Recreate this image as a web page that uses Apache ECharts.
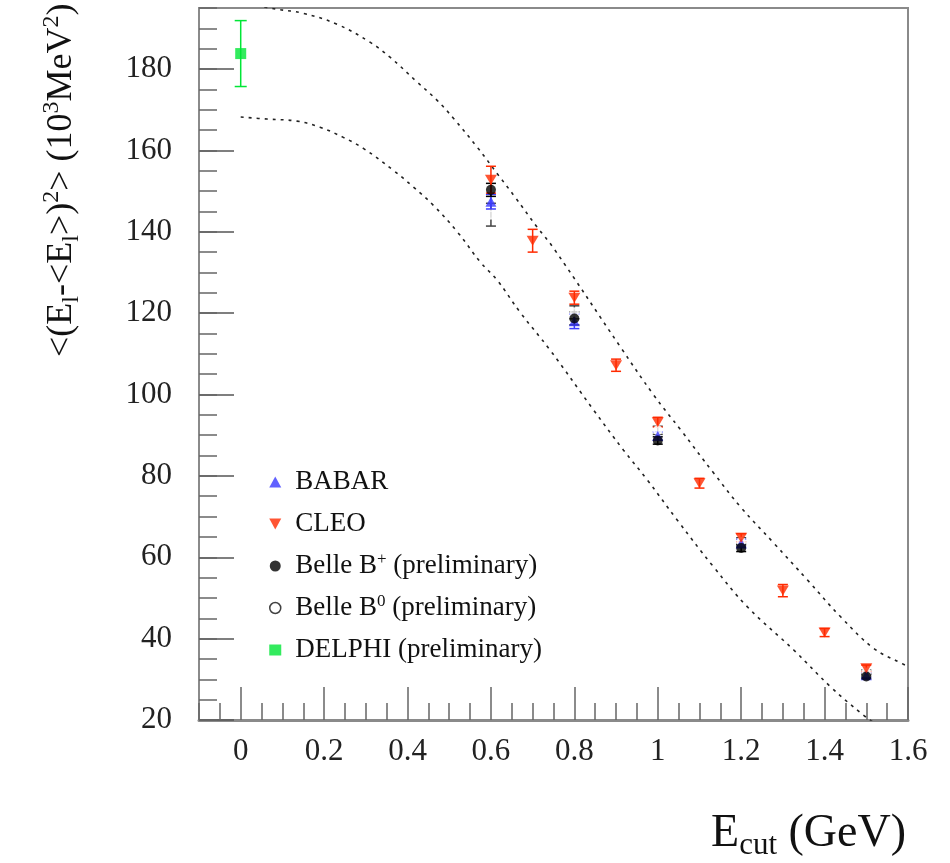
<!DOCTYPE html>
<html><head><meta charset="utf-8">
<script src="https://cdn.jsdelivr.net/npm/echarts@6/dist/echarts.min.js"></script>
<style>html,body{margin:0;padding:0;background:#fff}#c{width:950px;height:863px}</style>
</head><body><div id="c"></div>
<script>
// ---- tick labels ----
const xMajorTicks = [0, 0.2, 0.4, 0.6, 0.8, 1.0, 1.2, 1.4, 1.6];
const yMajorTicks = [20, 40, 60, 80, 100, 120, 140, 160, 180];

// ---- data (E_cut in GeV, value in 10^3 MeV^2, symmetric error) ----
const babarX = [0.6, 0.8, 1.0, 1.2, 1.5];
const babarY = [147.4, 118.0, 89.8, 63.4, 31.0];
const babarErr = [1.8, 1.8, 1.0, 1.0, 0.6];

const cleoX = [0.6, 0.7, 0.8, 0.9, 1.0, 1.1, 1.2, 1.3, 1.4, 1.5];
const cleoY = [152.8, 137.8, 123.8, 107.2, 93.2, 78.2, 64.8, 51.8, 41.5, 32.7];
const cleoErr = [3.3, 2.8, 1.6, 1.5, 1.2, 1.2, 1.0, 1.5, 1.0, 0.8];

const belleBpX = [0.6, 0.8, 1.0, 1.2, 1.5];
const belleBpY = [150.3, 118.7, 88.7, 62.3, 30.7];
const belleBpErr = [1.6, 1.6, 0.9, 0.9, 0.6];

const belleB0X = [0.6, 0.8, 1.0, 1.2, 1.5];
const belleB0Y = [144.2, 120.2, 91.2, 63.8, 31.7];
const belleB0Err = [2.8, 1.6, 1.0, 1.0, 0.6];

const delphiX = [0.0];
const delphiY = [183.8];
const delphiErr = [8.1];

// ---- dashed theory band edges ----
const upperCurveX = [0.0, 0.087, 0.150, 0.231, 0.310, 0.358, 0.423, 0.471, 0.510, 0.567, 0.618, 0.658, 0.711, 0.750, 0.911, 0.990, 1.055, 1.134, 1.199, 1.278, 1.359, 1.439, 1.518, 1.583, 1.6];
const upperCurveY = [196.3, 194.7, 193.7, 191.0, 186.6, 182.9, 176.8, 172.3, 167.9, 160.8, 153.9, 148.5, 141.1, 136.0, 111.6, 99.9, 91.3, 80.7, 72.3, 63.5, 54.4, 45.3, 37.6, 34.0, 33.2];
const lowerCurveX = [0.0, 0.063, 0.135, 0.190, 0.246, 0.294, 0.366, 0.414, 0.462, 0.520, 0.575, 0.615, 0.670, 0.742, 0.846, 0.918, 0.975, 1.047, 1.134, 1.215, 1.326, 1.415, 1.487, 1.52];
const lowerCurveY = [168.2, 167.7, 167.2, 165.7, 163.2, 160.5, 155.1, 151.0, 146.5, 139.9, 132.5, 128.1, 120.2, 110.9, 96.2, 86.3, 79.0, 69.1, 57.6, 47.8, 37.2, 28.1, 21.7, 19.2];

const names = ['BABAR', 'CLEO', 'Belle B+ (preliminary)', 'Belle B0 (preliminary)', 'DELPHI (preliminary)'];
const legendLabels = {
  'BABAR': 'BABAR',
  'CLEO': 'CLEO',
  'Belle B+ (preliminary)': 'Belle B{sup|+} (preliminary)',
  'Belle B0 (preliminary)': 'Belle B{sup|0} (preliminary)',
  'DELPHI (preliminary)': 'DELPHI (preliminary)'
};

const FONT = 'Liberation Serif';
const C_BABAR = '#3a3aff', C_CLEO = '#ff2a00', C_BELLE = '#000000', C_DELPHI = '#00e636';
const DOWN_TRI = 'path://M0,0L10,0L5,9Z';

function zip2(xs, ys) { return xs.map((x, i) => [x, ys[i]]); }
function zip3(xs, ys, es) { return xs.map((x, i) => [x, ys[i], es[i]]); }

function errRender(color, cap) {
  return function (params, api) {
    const x = api.value(0), y = api.value(1), e = api.value(2);
    const top = api.coord([x, y + e]);
    const bot = api.coord([x, y - e]);
    const st = { stroke: color, lineWidth: 1.5 };
    return { type: 'group', children: [
      { type: 'line', shape: { x1: top[0], y1: top[1], x2: bot[0], y2: bot[1] }, style: st },
      { type: 'line', shape: { x1: top[0] - cap, y1: top[1], x2: top[0] + cap, y2: top[1] }, style: st },
      { type: 'line', shape: { x1: bot[0] - cap, y1: bot[1], x2: bot[0] + cap, y2: bot[1] }, style: st }
    ] };
  };
}
function errSeries(id, xs, ys, es, color, cap) {
  return { id: id, type: 'custom', xAxisIndex: 0, yAxisIndex: 0, renderItem: errRender(color, cap),
    data: zip3(xs, ys, es), encode: { x: 0, y: 1 }, z: 3, silent: true };
}

const chart = echarts.init(document.getElementById('c'), null, { renderer: 'canvas' });
const axisLab = { fontFamily: FONT, fontSize: 31, color: '#222' };

chart.setOption({
  backgroundColor: '#ffffff',
  animation: false,
  grid: { left: 199, right: 42, top: 8, bottom: 143, show: true, borderColor: '#8a8a8a', borderWidth: 2 },
  xAxis: [
    { type: 'value', min: -0.1, max: 1.6, position: 'bottom',
      axisLine: { show: true, onZero: false, lineStyle: { color: '#8a8a8a', width: 3 } },
      axisTick: { show: true, inside: true, length: 33, customValues: xMajorTicks, lineStyle: { color: '#666', width: 1.5 } },
      axisLabel: Object.assign({ customValues: xMajorTicks, margin: 16, formatter: v => String(+v.toFixed(1)) }, axisLab),
      splitLine: { show: false } },
    { type: 'value', min: -0.1, max: 1.6, interval: 0.05, position: 'bottom',
      axisLine: { show: false, onZero: false },
      axisTick: { show: true, inside: true, length: 17, lineStyle: { color: '#666', width: 1.5 } },
      axisLabel: { show: false }, splitLine: { show: false } }
  ],
  yAxis: [
    { type: 'value', min: 20, max: 195, position: 'left',
      axisLine: { show: true, onZero: false, lineStyle: { color: '#8a8a8a', width: 2 } },
      axisTick: { show: true, inside: true, length: 35, customValues: yMajorTicks, lineStyle: { color: '#555', width: 1.5 } },
      axisLabel: Object.assign({ customValues: yMajorTicks, margin: 27 }, axisLab),
      splitLine: { show: false } },
    { type: 'value', min: 20, max: 195, interval: 5, position: 'left',
      axisLine: { show: false, onZero: false },
      axisTick: { show: true, inside: true, length: 18, lineStyle: { color: '#666', width: 1.5 } },
      axisLabel: { show: false }, splitLine: { show: false } }
  ],
  legend: {
    orient: 'vertical', left: 264, top: 462, itemGap: 12, itemWidth: 12, itemHeight: 11,
    data: [
      { name: names[0], icon: 'triangle', itemStyle: { color: C_BABAR } },
      { name: names[1], icon: DOWN_TRI, itemStyle: { color: C_CLEO } },
      { name: names[2], icon: 'circle', itemStyle: { color: C_BELLE } },
      { name: names[3], icon: 'circle', itemStyle: { color: '#ffffff', borderColor: '#111', borderWidth: 1.5 } },
      { name: names[4], icon: 'rect', itemStyle: { color: C_DELPHI } }
    ],
    formatter: n => '{pad|}' + legendLabels[n],
    textStyle: { fontFamily: FONT, fontSize: 27, color: '#111', lineHeight: 30,
      rich: { pad: { width: 9 }, sup: { fontFamily: FONT, fontSize: 17, verticalAlign: 'top', lineHeight: 30 } } }
  },
  graphic: [
    { type: 'text', x: 62, y: 357, rotation: Math.PI / 2,
      style: { text: '<(E{sub|l}-<E{sub|l}>){sup|2}> (10{sup|3}MeV{sup|2})', fontFamily: FONT, fontSize: 36, fill: '#111',
        align: 'left', verticalAlign: 'middle', lineHeight: 44,
        rich: { sub: { fontFamily: FONT, fontSize: 24, verticalAlign: 'bottom', lineHeight: 44 },
                sup: { fontFamily: FONT, fontSize: 24, verticalAlign: 'top', lineHeight: 44 } } } },
    { type: 'text', x: 906, y: 834,
      style: { text: 'E{sub|cut} (GeV)', fontFamily: FONT, fontSize: 46, fill: '#111', align: 'right', verticalAlign: 'middle', lineHeight: 54,
        rich: { sub: { fontFamily: FONT, fontSize: 31, verticalAlign: 'bottom', lineHeight: 54 } } } }
  ],
  series: [
    { type: 'line', name: 'upper', data: zip2(upperCurveX, upperCurveY), smooth: 0.4, showSymbol: false, clip: true,
      lineStyle: { color: '#222', width: 1.6, type: [3, 5] }, z: 1, silent: true },
    { type: 'line', name: 'lower', data: zip2(lowerCurveX, lowerCurveY), smooth: 0.4, showSymbol: false, clip: true,
      lineStyle: { color: '#222', width: 1.6, type: [3, 5] }, z: 1, silent: true },
    errSeries('eB0', belleB0X, belleB0Y, belleB0Err, '#444', 5),
    errSeries('eBabar', babarX, babarY, babarErr, C_BABAR, 5),
    errSeries('eBp', belleBpX, belleBpY, belleBpErr, C_BELLE, 5),
    errSeries('eCleo', cleoX, cleoY, cleoErr, C_CLEO, 5),
    errSeries('eDelphi', delphiX, delphiY, delphiErr, C_DELPHI, 6),
    { type: 'scatter', name: names[3], data: zip2(belleB0X, belleB0Y), symbol: 'emptyCircle', symbolSize: 8,
      itemStyle: { color: '#ffffff', borderColor: '#111', borderWidth: 1.5 }, z: 4 },
    { type: 'scatter', name: names[0], data: zip2(babarX, babarY), symbol: 'triangle', symbolSize: [11, 10],
      itemStyle: { color: C_BABAR }, z: 4 },
    { type: 'scatter', name: names[2], data: zip2(belleBpX, belleBpY), symbol: 'circle', symbolSize: 10,
      itemStyle: { color: C_BELLE }, z: 5 },
    { type: 'scatter', name: names[1], data: zip2(cleoX, cleoY), symbol: DOWN_TRI, symbolSize: [12, 10],
      itemStyle: { color: C_CLEO }, z: 6 },
    { type: 'scatter', name: names[4], data: zip2(delphiX, delphiY), symbol: 'rect', symbolSize: 11,
      itemStyle: { color: C_DELPHI }, z: 6 }
  ]
});
</script></body></html>
